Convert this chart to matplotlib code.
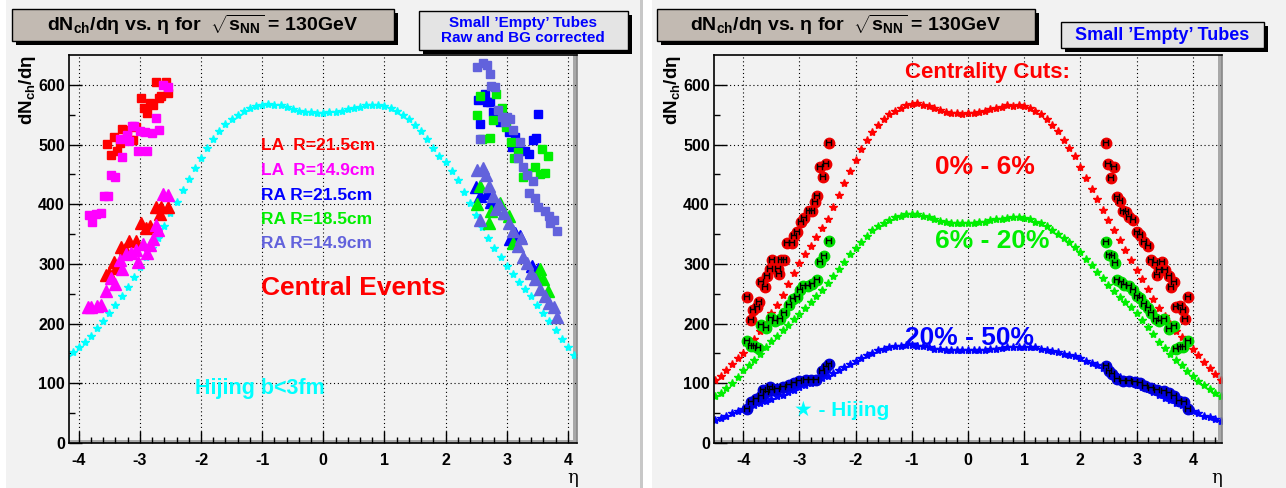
import numpy as np
import matplotlib
matplotlib.use("Agg")
import matplotlib.pyplot as plt
from matplotlib.patches import Rectangle

plt.rcParams['font.family'] = ['Liberation Sans', 'DejaVu Sans']
plt.rcParams['font.weight'] = 'bold'
plt.rcParams['axes.unicode_minus'] = False
plt.rcParams['mathtext.fontset'] = 'custom'
plt.rcParams['mathtext.rm'] = 'Liberation Sans:bold'
plt.rcParams['mathtext.it'] = 'Liberation Sans:bold'
plt.rcParams['mathtext.bf'] = 'Liberation Sans:bold'

# ---------------- left panel data (central events) ----------------
# Hijing b<3fm
eta_hij_c = [-4.2, -4.1, -4.0, -3.9, -3.8, -3.7, -3.6, -3.5, -3.4, -3.3, -3.2, -3.1, -3.0,
             -2.9, -2.8, -2.7, -2.6, -2.5, -2.4, -2.3, -2.2, -2.1, -2.0,
             -1.9, -1.8, -1.7, -1.6, -1.5, -1.4, -1.3, -1.2, -1.1, -1.0,
             -0.9, -0.8, -0.7, -0.6, -0.5, -0.4, -0.3, -0.2, -0.1, 0.0,
             0.1, 0.2, 0.3, 0.4, 0.5, 0.6, 0.7, 0.8, 0.9, 1.0,
             1.1, 1.2, 1.3, 1.4, 1.5, 1.6, 1.7, 1.8, 1.9, 2.0,
             2.1, 2.2, 2.3, 2.4, 2.5, 2.6, 2.7, 2.8, 2.9, 3.0,
             3.1, 3.2, 3.3, 3.4, 3.5, 3.6, 3.7, 3.8, 3.9, 4.0, 4.1, 4.2]
hij_c = [145, 152, 160, 170, 180, 192, 205, 218, 232, 247, 262, 278, 295,
         311, 327, 344, 364, 385, 404, 424, 443, 460, 478,
         495, 510, 523, 534, 543, 550, 556, 561, 565, 567,
         568, 566, 566, 563, 560, 557, 555, 554, 553, 553,
         554, 555, 557, 559, 561, 563, 567, 566, 566, 564,
         561, 556, 550, 542, 533, 522, 509, 495, 481, 470,
         455, 440, 421, 402, 382, 362, 344, 327, 311, 296,
         283, 270, 258, 246, 232, 218, 204, 190, 175, 160, 148, 143]

la215_sq_eta = [-2.74, -2.58, -2.54, -2.66, -2.69, -2.83, -2.79, -2.94, -2.88, -2.99,
                -3.06, -3.29, -3.21, -3.11, -3.16, -3.33, -3.43, -3.54, -3.37, -3.48]
la215_sq = [604, 604, 587, 581, 578, 570, 566, 562, 552, 578,
            530, 526, 524, 508, 508, 503, 513, 501, 489, 482]
la149_sq_eta = [-2.62, -2.54, -2.74, -2.69, -2.81, -2.91, -3.00, -3.09, -3.13, -3.21, -3.18, -3.33,
                -3.29, -3.03, -2.88, -3.48, -3.40, -3.58, -3.53, -3.84, -3.78, -3.63, -3.72]
la149_sq = [600, 597, 545, 524, 519, 521, 522, 531, 531, 516, 506, 510,
            479, 489, 489, 449, 445, 414, 413, 382, 371, 385, 384]
la215_tr_eta = [-2.54, -2.65, -2.74, -2.67, -2.84, -2.98, -2.90, -3.06, -3.18, -3.31,
                -3.25, -3.43, -3.39, -3.50, -3.55]
la215_tr = [396, 396, 396, 384, 364, 369, 360, 338, 338, 329,
            325, 303, 293, 285, 281]
la149_tr_eta = [-2.62, -2.54, -2.74, -2.70, -2.79, -2.84, -2.95, -3.06, -2.88, -3.03, -3.14,
                -3.23, -3.33, -3.29, -3.48, -3.41, -3.55, -3.63, -3.70, -3.80, -3.85]
la149_tr = [417, 415, 366, 356, 341, 332, 334, 324, 319, 304, 319,
            316, 307, 291, 277, 266, 254, 232, 229, 227, 227]

ra149_sq_eta = [2.51, 2.62, 2.67, 2.73, 2.75, 2.81, 2.86, 2.92, 3.00, 3.05, 2.97, 3.11, 3.22,
                2.56, 3.18, 3.27, 3.33, 3.43, 3.37, 3.47, 3.52, 3.63, 3.69, 3.77, 3.71, 3.82]
ra149_sq = [630, 637, 633, 619, 598, 597, 558, 546, 546, 543, 537, 524, 504,
            510, 477, 463, 449, 439, 419, 410, 396, 389, 380, 373, 368, 355]
ra215_sq_eta = [2.53, 2.64, 2.68, 2.73, 2.57, 2.78, 2.81, 2.89, 3.03, 3.14, 3.08, 3.22,
                3.30, 3.37, 3.52, 3.43, 3.48]
ra215_sq = [575, 584, 571, 571, 535, 554, 543, 537, 521, 512, 496, 491,
            490, 484, 551, 508, 511]
ra185_sq_eta = [2.57, 2.82, 2.52, 2.77, 2.92, 2.99, 2.60, 2.73, 3.07, 3.18, 3.12,
                3.58, 3.67, 3.47, 3.33, 3.26, 3.62, 3.54]
ra185_sq = [582, 584, 550, 541, 561, 530, 510, 511, 504, 488, 478,
            493, 481, 463, 452, 445, 452, 450]
ra149_tr_eta = [2.51, 2.62, 2.66, 2.71, 2.78, 2.88, 2.82, 2.56, 2.95, 3.04, 3.11,
                3.23, 3.18, 3.27, 3.33, 3.40, 3.47, 3.55, 3.63, 3.70, 3.78, 3.82]
ra149_tr = [457, 460, 449, 430, 414, 401, 392, 373, 385, 368, 355,
            343, 330, 312, 302, 285, 274, 258, 247, 235, 227, 211]
ra215_tr_eta = [2.49, 2.56, 2.67, 2.74, 2.79, 3.05, 3.14, 3.21, 3.41, 3.52]
ra215_tr = [429, 413, 418, 404, 396, 342, 352, 346, 296, 291]
ra185_tr_eta = [2.56, 2.52, 2.71, 2.75, 2.89, 2.95, 3.03, 3.11, 3.55, 3.49, 3.67, 3.59]
ra185_tr = [430, 401, 368, 388, 402, 385, 380, 335, 291, 280, 255, 274]

# ---------------- right panel data (centrality cuts) ----------------
eta_hij = [-4.5, -4.4, -4.3, -4.2, -4.1, -4.0, -3.9, -3.8, -3.7, -3.6, -3.5, -3.4, -3.3, -3.2, -3.1, -3.0,
           -2.9, -2.8, -2.7, -2.6, -2.5, -2.4, -2.3, -2.2, -2.1, -2.0,
           -1.9, -1.8, -1.7, -1.6, -1.5, -1.4, -1.3, -1.2, -1.1, -1.0,
           -0.9, -0.8, -0.7, -0.6, -0.5, -0.4, -0.3, -0.2, -0.1, 0.0,
           0.1, 0.2, 0.3, 0.4, 0.5, 0.6, 0.7, 0.8, 0.9, 1.0,
           1.1, 1.2, 1.3, 1.4, 1.5, 1.6, 1.7, 1.8, 1.9, 2.0,
           2.1, 2.2, 2.3, 2.4, 2.5, 2.6, 2.7, 2.8, 2.9, 3.0,
           3.1, 3.2, 3.3, 3.4, 3.5, 3.6, 3.7, 3.8, 3.9, 4.0, 4.1, 4.2, 4.3, 4.4, 4.5]
hij_0_6 = [105, 113, 122, 133, 142, 151, 162, 174, 187, 200, 218, 232, 248, 266, 284, 302,
           316, 330, 345, 360, 376, 395, 415, 435, 455, 474,
           492, 508, 521, 532, 543, 551, 557, 562, 566, 568,
           569, 567, 565, 562, 558, 555, 553, 552, 551, 552,
           553, 555, 557, 559, 561, 563, 566, 565, 566, 565,
           562, 557, 551, 543, 533, 522, 508, 494, 480, 462,
           444, 425, 408, 391, 374, 357, 340, 324, 307, 290,
           274, 258, 242, 226, 212, 200, 188, 177, 167, 158, 148, 136, 125, 115, 105]
hij_6_20 = [78, 84, 92, 101, 110, 122, 130, 139, 149, 160, 171, 180, 189, 198, 207, 216,
            226, 236, 246, 257, 268, 280, 292, 304, 316, 327,
            337, 347, 356, 363, 369, 374, 378, 381, 383, 384,
            383, 381, 378, 375, 372, 370, 369, 368, 368, 368,
            369, 370, 371, 373, 375, 376, 377, 378, 378, 377,
            375, 371, 368, 363, 357, 350, 343, 336, 328, 320,
            309, 298, 287, 276, 264, 254, 245, 236, 227, 218,
            206, 194, 182, 170, 159, 149, 139, 130, 121, 112, 104, 97, 90, 84, 78]
hij_20_50 = [39, 42, 46, 50, 54, 57, 60, 64, 67, 71, 74, 78, 81, 85, 89, 93,
             97, 101, 105, 109, 113, 118, 123, 128, 133, 138,
             142, 147, 151, 155, 158, 160, 162, 163, 164, 164,
             163, 162, 160, 158, 157, 156, 155, 155, 155, 155,
             155, 156, 156, 157, 158, 159, 160, 161, 161, 161,
             161, 160, 158, 156, 154, 152, 149, 147, 145, 142,
             138, 134, 130, 125, 120, 115, 110, 106, 102, 98,
             94, 90, 85, 80, 76, 72, 67, 63, 58, 54, 50, 46, 43, 40, 37]

c06_eta = [-2.48, -2.64, -2.52, -2.58, -2.72, -2.68, -2.78, -2.83, -2.91, -2.98, -3.04, -3.10, -3.13, -3.22,
           -3.27, -3.33, -3.49, -3.38, -3.53, -3.37, -3.57, -3.68, -3.62, -3.72, -3.76, -3.82, -3.87, -3.93,
           2.46, 2.50, 2.60, 2.55, 2.65, 2.71, 2.75, 2.81, 2.87, 2.94, 3.00, 3.06, 3.14, 3.20,
           3.26, 3.32, 3.46, 3.40, 3.51, 3.36, 3.57, 3.67, 3.61, 3.71, 3.77, 3.82, 3.91, 3.87]
c06 = [503, 463, 467, 446, 404, 413, 389, 388, 377, 371, 354, 347, 335, 335,
       307, 306, 306, 291, 291, 283, 279, 269, 262, 236, 228, 223, 206, 245,
       502, 467, 462, 444, 412, 406, 389, 387, 378, 373, 354, 348, 336, 330,
       307, 302, 304, 290, 290, 281, 279, 269, 261, 228, 229, 222, 244, 207]
c620_eta = [-2.48, -2.57, -2.63, -2.69, -2.78, -2.85, -2.93, -2.99, -3.05, -3.11, -3.19, -3.27, -3.35,
            -3.43, -3.51, -3.59, -3.69, -3.74, -3.81, -3.87, -3.93,
            2.46, 2.51, 2.56, 2.62, 2.66, 2.72, 2.78, 2.86, 2.93, 3.00, 3.06, 3.14, 3.20, 3.26,
            3.35, 3.40, 3.49, 3.57, 3.67, 3.71, 3.77, 3.83, 3.91]
c620 = [339, 313, 304, 273, 267, 263, 263, 256, 245, 242, 232, 217, 208,
        204, 210, 192, 197, 159, 163, 162, 171,
        337, 315, 313, 302, 273, 269, 265, 263, 257, 246, 243, 233, 226, 218,
        207, 204, 207, 191, 196, 158, 161, 161, 171]
c2050_eta = [-2.48, -2.52, -2.60, -2.70, -2.80, -2.89, -3.01, -3.10, -3.19, -3.29, -3.40, -3.49,
             -3.59, -3.69, -3.78, -3.87, -3.93, -3.64, -3.52,
             2.45, 2.51, 2.57, 2.66, 2.75, 2.87, 2.98, 3.06, 3.15, 3.26, 3.37, 3.48, 3.58,
             3.67, 3.76, 3.85, 3.91]
c2050 = [132, 127, 121, 106, 106, 106, 104, 101, 97, 93, 91, 88,
         85, 79, 73, 68, 57, 89, 93,
         129, 121, 115, 107, 104, 104, 102, 100, 96, 92, 89, 87, 83,
         79, 71, 68, 57]

RED = '#ff0000'
MAG = '#ff00ff'
BLUE = '#0000ff'
GREEN = '#00ee00'
SLATE = '#6262dc'
CYAN = '#00ffff'
PAD = '#f2f2f2'

W, H = 1286, 488
fig = plt.figure(figsize=(W / 100, H / 100), dpi=100, facecolor='white')


def fbox(x0, y0, x1, y1):
    # pixel box (top-left origin) -> figure fraction [l, b, w, h]
    return [x0 / W, 1 - y1 / H, (x1 - x0) / W, (y1 - y0) / H]


def rect(x0, y0, x1, y1, z=5, **kw):
    l, b, w, h = fbox(x0, y0, x1, y1)
    fig.add_artist(Rectangle((l, b), w, h, transform=fig.transFigure, zorder=z, **kw))


def label_box(x0, y0, x1, y1, face):
    rect(x0 + 4, y0 + 4, x1 + 4, y1 + 4, facecolor='black', edgecolor='none')
    rect(x0, y0, x1, y1, facecolor=face, edgecolor='black', lw=1)


# pads (behind the axes)
rect(6, 0, 640, H, z=-10, facecolor=PAD, edgecolor='none')
rect(652, 0, W, H, z=-10, facecolor=PAD, edgecolor='none')
rect(640, 0, 643, H, z=-10, facecolor='#c8c8c8', edgecolor='none')


def setup(ax, xlim):
    ax.set_facecolor(PAD)
    ax.set_xticks([-4, -3, -2, -1, 0, 1, 2, 3, 4])
    ax.set_xticks(np.arange(-4.4, 4.41, 0.2), minor=True)
    ax.set_yticks([0, 100, 200, 300, 400, 500, 600])
    ax.set_yticks([50, 150, 250, 350, 450, 550], minor=True)
    ax.set_xlim(*xlim)
    ax.set_ylim(0, 650)
    ax.tick_params(which='both', direction='in', top=False, right=False,
                   labelsize=11.5, width=1)
    ax.tick_params(which='major', length=9)
    ax.tick_params(which='minor', length=4.5)
    ax.tick_params(axis='x', pad=7)
    ax.tick_params(axis='y', pad=3)
    for lab in ax.get_xticklabels() + ax.get_yticklabels():
        lab.set_fontweight('bold')
    ax.grid(True, which='major', color='black', linestyle=(0, (1, 2.5)), lw=0.8)
    ax.set_axisbelow(True)
    for s in ['left', 'bottom', 'top']:
        ax.spines[s].set_color('black')
        ax.spines[s].set_linewidth(1.2)
    ax.spines['right'].set_color('#888888')
    ax.spines['right'].set_linewidth(1.2)
    # frame shading along bottom and right
    ax.add_patch(Rectangle((0.992, 0), 0.008, 1, transform=ax.transAxes,
                           facecolor='#a8a8a8', edgecolor='none', zorder=0.5))
    ax.add_patch(Rectangle((0, 0), 1, 0.007, transform=ax.transAxes,
                           facecolor='#a8a8a8', edgecolor='none', zorder=0.5))


# ---------------- left panel ----------------
axL = fig.add_axes(fbox(69, 55, 577, 443))
setup(axL, (-4.16, 4.15))
axL.plot(eta_hij_c, hij_c, ls='none', marker='*', ms=6, color=CYAN, mec=CYAN)
sq = dict(ls='none', marker='s', ms=6)
tr = dict(ls='none', marker='^', ms=8.5)
axL.plot(la215_sq_eta, la215_sq, color=RED, **sq)
axL.plot(la149_sq_eta, la149_sq, color=MAG, **sq)
axL.plot(la215_tr_eta, la215_tr, color=RED, **tr)
axL.plot(la149_tr_eta, la149_tr, color=MAG, **tr)
axL.plot(ra215_sq_eta, ra215_sq, color=BLUE, **sq)
axL.plot(ra185_sq_eta, ra185_sq, color=GREEN, **sq)
axL.plot(ra149_sq_eta, ra149_sq, color=SLATE, **sq)
axL.plot(ra215_tr_eta, ra215_tr, color=BLUE, **tr)
axL.plot(ra185_tr_eta, ra185_tr, color=GREEN, **tr)
axL.plot(ra149_tr_eta, ra149_tr, color=SLATE, **tr)

leg_lines = ['LA  R=21.5cm', 'LA  R=14.9cm', 'RA R=21.5cm', 'RA R=18.5cm', 'RA R=14.9cm']
leg_colors = [RED, MAG, BLUE, GREEN, SLATE]
leg_y = [499, 457, 415, 375, 335]
for t, c, yy in zip(leg_lines, leg_colors, leg_y):
    axL.text(-1.02, yy, t, color=c, fontsize=12.5, fontweight='bold', va='center', ha='left')
axL.text(-1.02, 259, 'Central Events', color=RED, fontsize=19, fontweight='bold',
         va='center', ha='left')
axL.text(-2.1, 92, 'Hijing b<3fm', color=CYAN, fontsize=15.5, fontweight='bold',
         va='center', ha='left')

# ---------------- right panel ----------------
axR = fig.add_axes(fbox(714, 55, 1222, 443))
setup(axR, (-4.52, 4.52))
st = dict(ls='none', marker='*', ms=6)
axR.plot(eta_hij, hij_0_6, color=RED, mec=RED, **st)
axR.plot(eta_hij, hij_6_20, color=GREEN, mec=GREEN, **st)
axR.plot(eta_hij, hij_20_50, color=BLUE, mec=BLUE, **st)
for ex, ey, c in [(c06_eta, c06, '#ee0000'), (c620_eta, c620, '#00dd00'), (c2050_eta, c2050, '#0000dd')]:
    axR.plot(ex, ey, ls='none', marker='o', ms=7.5, color=c, mec=c)
    axR.plot(ex, ey, ls='none', marker='$H$', ms=5, color='black', mew=0.3)

axR.text(-1.12, 621, 'Centrality Cuts:', color=RED, fontsize=16, fontweight='bold',
         va='center', ha='left')
axR.text(-0.59, 462, '0% - 6%', color=RED, fontsize=19, fontweight='bold', va='center', ha='left')
axR.text(-0.59, 339, '6% - 20%', color='#00ee00', fontsize=19, fontweight='bold',
         va='center', ha='left')
axR.text(-1.12, 176, '20% - 50%', color=BLUE, fontsize=19, fontweight='bold',
         va='center', ha='left')
axR.text(-3.1, 55, '\u2605 - Hijing', color=CYAN, fontsize=15, fontweight='bold',
         va='center', ha='left', family=['Liberation Sans', 'DejaVu Sans'])

# axis titles
ylab = r'dN$_{\rm ch}$/d$\eta$'
fig.text(28 / W, 1 - 55 / H, ylab, rotation=90, ha='center', va='top', fontsize=13.5,
         fontweight='bold')
fig.text(673 / W, 1 - 55 / H, ylab, rotation=90, ha='center', va='top', fontsize=13.5,
         fontweight='bold')
fig.text(573 / W, 1 - 478 / H, '\u03b7', ha='center', va='center', fontsize=13,
         family='DejaVu Serif', fontweight='normal')
fig.text(1217 / W, 1 - 478 / H, '\u03b7', ha='center', va='center', fontsize=13,
         family='DejaVu Serif', fontweight='normal')

# title boxes
title = r'dN$_{\rm ch}$/d$\eta$ vs. $\eta$ for  $\sqrt{\rm s_{NN}}$ = 130GeV'
label_box(12, 9, 394, 41, '#c2bab2')
fig.text(203 / W, 1 - 25 / H, title, ha='center', va='center', fontsize=14, fontweight='bold',
         zorder=6)
label_box(657, 9, 1035, 41, '#c2bab2')
fig.text(846 / W, 1 - 25 / H, title, ha='center', va='center', fontsize=14, fontweight='bold',
         zorder=6)

label_box(419, 11, 628, 50, '#e4e4e4')
fig.text(523 / W, 1 - 30.5 / H, 'Small \u2019Empty\u2019 Tubes\nRaw and BG corrected',
         ha='center', va='center', fontsize=11, fontweight='bold', color=BLUE, linespacing=1.15,
         zorder=6)
label_box(1061, 22, 1264, 48, '#e4e4e4')
fig.text(1162 / W, 1 - 35 / H, 'Small \u2019Empty\u2019 Tubes', ha='center', va='center',
         fontsize=13, fontweight='bold', color=BLUE, zorder=6)

fig.savefig('out.png', dpi=100, facecolor='white')
